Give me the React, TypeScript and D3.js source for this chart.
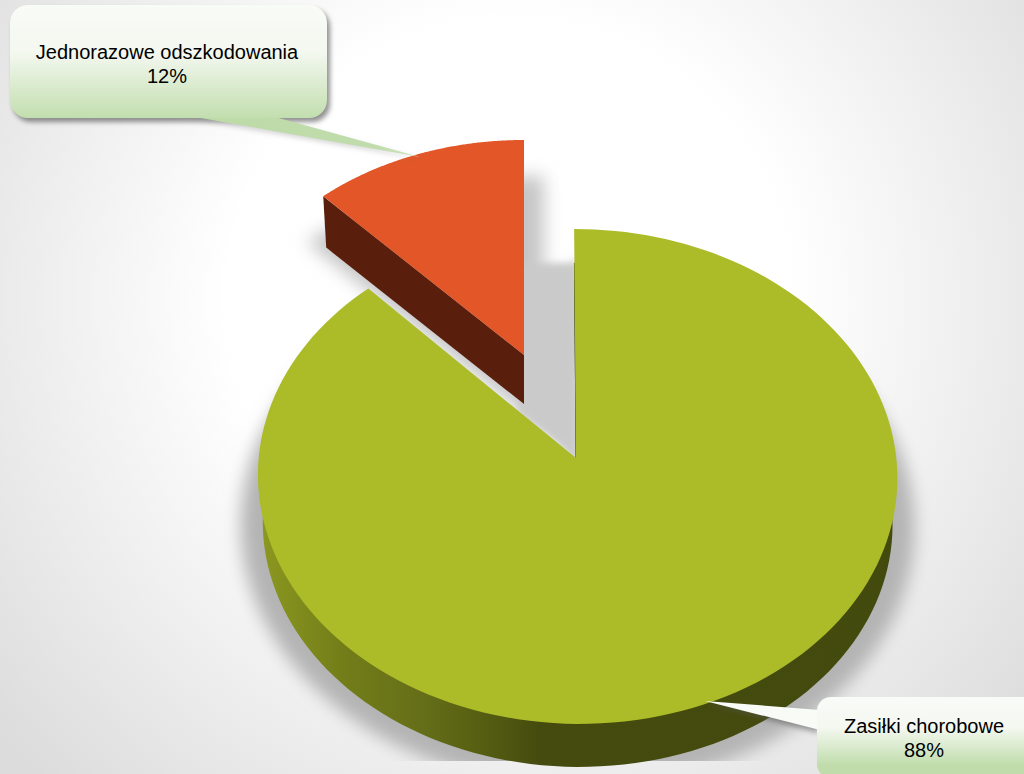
import React from "react";
import * as d3 from "d3";

const categories = ["Zasiłki chorobowe", "Jednorazowe odszkodowania"];
const values = [88, 12];
const percentLabels = ["88%", "12%"];

const W = 1024;
const H = 774;

type Proj = { ox: number; oy: number; A: number; B: number; p: number; q: number; s: number; dy: number; k: number };
const projGreen: Proj = { ox: 576, oy: 458, A: 318.8, B: 246, p: 0.0748, q: -0.0047, s: -2, dy: 47, k: 0.985 };
const projOrange: Proj = { ox: 524, oy: 355, A: 304, B: 225.75, p: 0.05, q: 0, s: 0, dy: 49, k: 0.985 };

const pt = (g: Proj, a: number, z = 0): [number, number] => {
  const u = Math.sin(a), v = Math.cos(a);
  const w = 1 + g.p * v + g.q * u;
  const x = (g.A * u + g.s * v) / w;
  const y = (g.B * v) / w;
  return z ? [g.ox + x * g.k, g.oy - y * g.k + g.dy] : [g.ox + x, g.oy - y];
};
const apex = (g: Proj, z = 0): [number, number] => [g.ox, g.oy + (z ? g.dy : 0)];

const line = d3.line();
const sector = (g: Proj, a0: number, a1: number, z = 0) => {
  const n = 160;
  const ang = d3.scaleLinear().domain([0, n]).range([a0, a1]);
  const pts = d3.range(n + 1).map((i) => pt(g, ang(i), z));
  return line([apex(g, z), ...pts]) + "Z";
};

const slices = d3.pie<number>().sort(null)(values);
const green = slices[0];
const orange = slices[1];

const wedgeGreen = [green.startAngle, green.endAngle] as const;
const wedgeOrange = [orange.startAngle, orange.endAngle] as const;

const topGreen = sector(projGreen, wedgeGreen[0], wedgeGreen[1]);
const bottomGreen = sector(projGreen, wedgeGreen[0], wedgeGreen[1], 1);
const topOrange = sector(projOrange, wedgeOrange[0], wedgeOrange[1]);
const wallOrange = (() => {
  const a = pt(projOrange, wedgeOrange[0]);
  const b = pt(projOrange, wedgeOrange[0], 1);
  return line([a, b, apex(projOrange, 1), apex(projOrange)]) + "Z";
})();
const unionOrange = sector(projOrange, wedgeOrange[0], wedgeOrange[1], 1);

const edgeTop = pt(projGreen, 0);
const edgeLine = line([
  [edgeTop[0] + 0.1 * (576 - edgeTop[0]) + 0.2, 263],
  [576.3, 458],
]) as string;

export default function App() {
  return (
    <svg
      width={W}
      height={H}
      viewBox={`0 0 ${W} ${H}`}
      style={{ position: "absolute", left: 0, top: 0, display: "block" }}
      fontFamily="'Liberation Sans', Arial, sans-serif"
    >
      <defs>
        <radialGradient id="bg" gradientUnits="userSpaceOnUse" cx={510} cy={300} r={670}>
          <stop offset="0" stopColor="#ffffff" />
          <stop offset="0.42" stopColor="#ffffff" />
          <stop offset="0.62" stopColor="#f3f3f3" />
          <stop offset="0.85" stopColor="#e5e5e5" />
          <stop offset="1" stopColor="#dcdcdc" />
        </radialGradient>
        <linearGradient id="wall" gradientUnits="userSpaceOnUse" x1={258} x2={897} y1={0} y2={0}>
          <stop offset="0" stopColor="#8c9920" />
          <stop offset="0.13" stopColor="#737e19" />
          <stop offset="0.25" stopColor="#666f18" />
          <stop offset="0.35" stopColor="#565e12" />
          <stop offset="0.44" stopColor="#454b0e" />
          <stop offset="1" stopColor="#434a0d" />
        </linearGradient>
        <linearGradient id="box1" x1={0} x2={0} y1={0} y2={1}>
          <stop offset="0" stopColor="#f9fbf7" />
          <stop offset="0.42" stopColor="#f4f8f0" />
          <stop offset="1" stopColor="#c2deae" />
        </linearGradient>
        <linearGradient id="box2" gradientUnits="userSpaceOnUse" x1={0} x2={0} y1={697} y2={778}>
          <stop offset="0" stopColor="#f9fbf7" />
          <stop offset="0.38" stopColor="#f4f8f0" />
          <stop offset="0.85" stopColor="#bfdcaa" />
          <stop offset="1" stopColor="#bfdcaa" />
        </linearGradient>
        <linearGradient id="tail1" gradientUnits="userSpaceOnUse" x1={195} x2={420} y1={118} y2={157}>
          <stop offset="0" stopColor="#bcdba6" />
          <stop offset="0.8" stopColor="#c0dcac" />
          <stop offset="1" stopColor="#d0e4c0" />
        </linearGradient>
        <filter id="blurBig" x="-20%" y="-20%" width="140%" height="140%">
          <feGaussianBlur stdDeviation="8" />
        </filter>
        <filter id="blurMid" x="-30%" y="-30%" width="160%" height="160%">
          <feGaussianBlur stdDeviation="7" />
        </filter>
        <filter id="blurSmall" x="-30%" y="-30%" width="160%" height="160%">
          <feGaussianBlur stdDeviation="3.5" />
        </filter>
        <filter id="boxShadow" x="-10%" y="-20%" width="120%" height="150%">
          <feGaussianBlur stdDeviation="2.5" />
        </filter>
        <clipPath id="shadowClip">
          <rect x={0} y={0} width={W} height={761} />
        </clipPath>
      </defs>

      <rect width={W} height={H} fill="url(#bg)" />

      <g clipPath="url(#shadowClip)">
        <path
          d={bottomGreen}
          fill="#b4b4b4"
          filter="url(#blurBig)"
          transform="translate(577 480) scale(1.07 1.07) translate(-577 -480)"
        />
      </g>
      <path
        d={unionOrange}
        fill="#c6c6c6"
        filter="url(#blurMid)"
        transform="translate(424 274) scale(1.2 1.2) translate(-424 -274)"
      />
      <path
        d={line([[518, 263], [578, 263], [578, 462], [518, 412]]) + "Z"}
        fill="#cacaca"
        filter="url(#blurSmall)"
      />

      <path d={bottomGreen} fill="url(#wall)" />
      <path d={edgeLine} stroke="#565e22" strokeWidth={1.2} fill="none" />
      <path d={topGreen} fill="#acbb28" />

      <path d={wallOrange} fill="#5a1f0c" />
      <path d={topOrange} fill="#e25627" />

      {/* callout: Jednorazowe odszkodowania */}
      <g>
        <rect x={13} y={9} width={317} height={113} rx={18} fill="#555" opacity={0.65} filter="url(#boxShadow)" />
        <path d={line([[195, 118], [275, 118], [420, 157]]) + "Z"} fill="#8a8a8a" opacity={0.35} filter="url(#boxShadow)" transform="translate(0 2)" />
        <path d={line([[195, 117], [275, 117], [420, 157]]) + "Z"} fill="url(#tail1)" />
        <rect x={10} y={5} width={317} height={113} rx={18} fill="url(#box1)" />
        <text x={167} y={59} textAnchor="middle" fontSize={20} fill="#000">{categories[1]}</text>
        <text x={167} y={83} textAnchor="middle" fontSize={20} fill="#000">{percentLabels[1]}</text>
      </g>

      {/* callout: Zasiłki chorobowe */}
      <g>
        <path d={line([[705, 701], [817, 710], [817, 730]]) + "Z"} fill="#555" opacity={0.5} filter="url(#boxShadow)" transform="translate(1 3)" />
        <path d={line([[705, 701], [820, 710], [820, 730]]) + "Z"} fill="#f8fbf6" />
        <rect x={817} y={697} width={225} height={81} rx={14} fill="url(#box2)" />
        <text x={924} y={733} textAnchor="middle" fontSize={20} fill="#000">{categories[0]}</text>
        <text x={924} y={757} textAnchor="middle" fontSize={20} fill="#000">{percentLabels[0]}</text>
      </g>
    </svg>
  );
}
